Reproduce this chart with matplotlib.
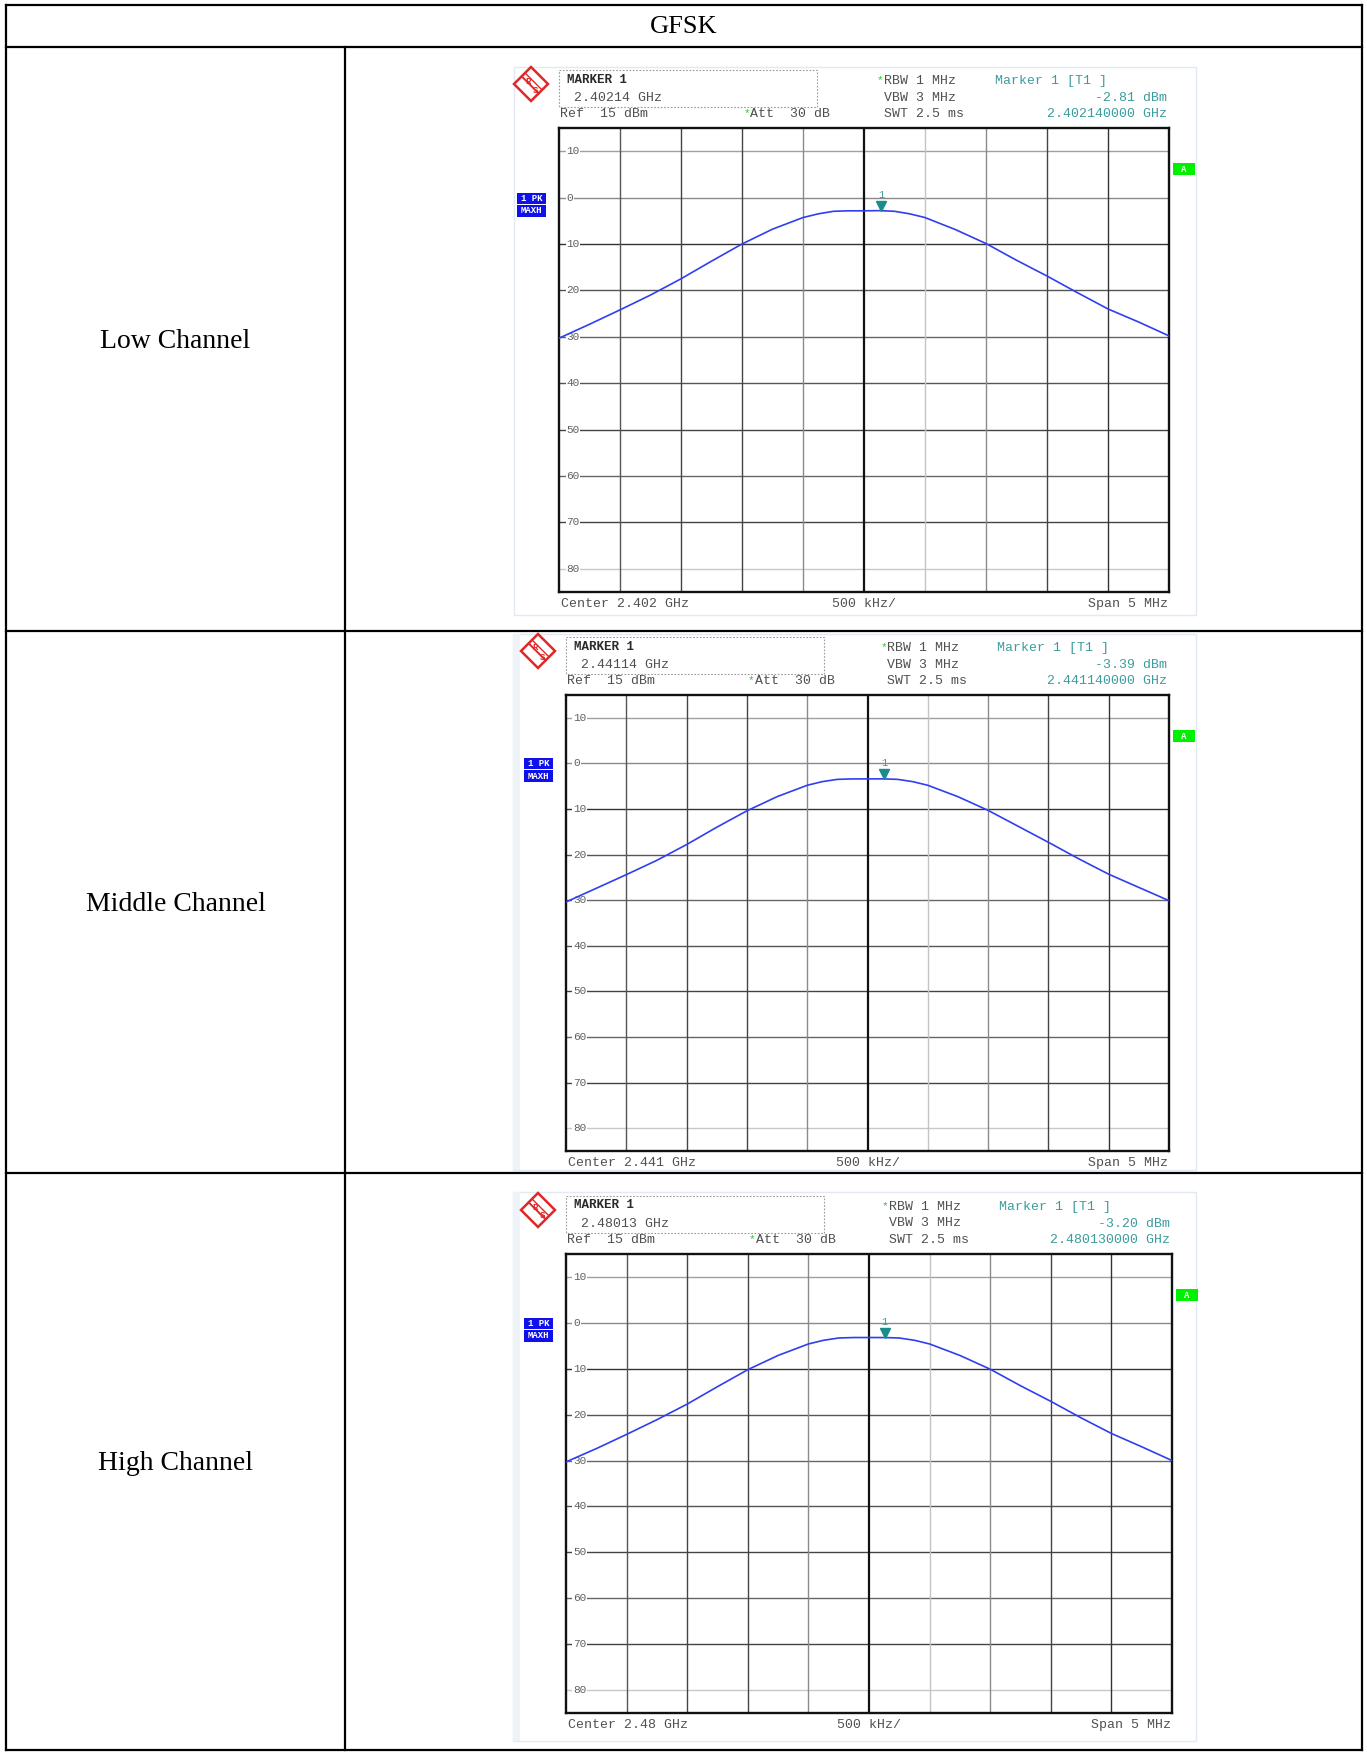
import numpy as np
import matplotlib.pyplot as plt
from matplotlib.patches import Rectangle, Polygon

# ---- data ----
title = 'GFSK'
channel_names = ['Low Channel', 'Middle Channel', 'High Channel']
center_ghz = [2.402, 2.441, 2.48]
marker_ghz = [2.40214, 2.44114, 2.48013]
marker_dbm = [-2.81, -3.39, -3.20]

# frequency offset from centre (MHz) at which the trace was read
offset_mhz = [-2.5, -2.25, -2.0, -1.75, -1.5, -1.25, -1.0, -0.75, -0.5, -0.375,
              -0.25, -0.125, 0.0, 0.125, 0.25, 0.375, 0.5, 0.75, 1.0, 1.25,
              1.5, 1.75, 2.0, 2.25, 2.5]
low_dbm = [-30.3, -27.3, -24.2, -21.0, -17.5, -13.7, -10.0, -6.8, -4.3, -3.5,
           -2.95, -2.85, -2.85, -2.81, -2.95, -3.5, -4.3, -6.9, -9.9, -13.5,
           -16.9, -20.5, -24.0, -26.8, -29.8]
mid_dbm = [-30.4, -27.4, -24.4, -21.3, -17.8, -14.0, -10.4, -7.3, -4.8, -4.0,
           -3.5, -3.4, -3.4, -3.39, -3.5, -4.0, -4.8, -7.3, -10.3, -13.8,
           -17.3, -20.9, -24.3, -27.2, -30.1]
high_dbm = [-30.3, -27.4, -24.3, -21.1, -17.7, -13.9, -10.2, -7.1, -4.6, -3.8,
            -3.3, -3.2, -3.2, -3.2, -3.3, -3.8, -4.6, -7.1, -10.1, -13.7,
            -17.1, -20.7, -24.1, -27.0, -30.0]
traces = [low_dbm, mid_dbm, high_dbm]

ref_level = 15
grid_levels = [10, 0, -10, -20, -30, -40, -50, -60, -70, -80]

# ---- layout (pixels of the 1367x1753 page) ----
W, H = 1367, 1753
table_x = (6, 1362)
table_rows = [5, 47, 631, 1173, 1750]
col_x = 345
shots = [(514, 67, 1196, 615), (513, 634, 1196, 1170), (513, 1192, 1196, 1741)]
frames = [(559, 128, 1169, 592), (566, 695, 1169, 1151), (566, 1254, 1172, 1713)]

serif = 'Liberation Serif'
mono = 'Liberation Mono'
txt_gray = '#505050'
teal = '#3c9c9c'
trace_blue = '#2f3ff0'

hgrid_col = {10: '#a0a0a0', 0: '#8a8a8a', -10: '#333333', -20: '#555555',
             -30: '#666666', -40: '#555555', -50: '#444444', -60: '#666666',
             -70: '#444444', -80: '#c8c8c8'}
vgrid_col = {-2.0: '#555555', -1.5: '#444444', -1.0: '#444444', -0.5: '#8a8a8a',
             0.5: '#c4c4c4', 1.0: '#8a8a8a', 1.5: '#444444', 2.0: '#333333'}

fig = plt.figure(figsize=(W / 100, H / 100), dpi=100)
fig.patch.set_facecolor('white')
bg = fig.add_axes([0, 0, 1, 1])
bg.set_xlim(0, W)
bg.set_ylim(H, 0)
bg.axis('off')

# table grid
for y in table_rows:
    bg.plot(table_x, [y, y], color='black', lw=1.6, solid_capstyle='projecting')
for x in table_x:
    bg.plot([x, x], [table_rows[0], table_rows[-1]], color='black', lw=1.6)
bg.plot([col_x, col_x], [table_rows[1], table_rows[-1]], color='black', lw=1.6)

bg.text((table_x[0] + table_x[1]) / 2, (table_rows[0] + table_rows[1]) / 2 + 1, title,
        family=serif, fontsize=19, ha='center', va='center')
for i, name in enumerate(channel_names):
    yc = (table_rows[i + 1] + table_rows[i + 2]) / 2 + 2
    bg.text((table_x[0] + col_x) / 2, yc, name, family=serif, fontsize=20,
            ha='center', va='center')


def draw_logo(cx, cy, r=17):
    diamond = Polygon([(cx, cy - r), (cx + r, cy), (cx, cy + r), (cx - r, cy)],
                      closed=True, facecolor='white', edgecolor='#e02828', lw=1.8)
    bg.add_patch(diamond)
    bg.plot([cx - r * 0.55, cx + r * 0.45], [cy - r * 0.45, cy + r * 0.55],
            color='#e02828', lw=1.4)
    bg.plot([cx - r * 0.35, cx + r * 0.6], [cy - r * 0.65, cy + r * 0.3],
            color='#e02828', lw=1.0)
    bg.text(cx - 3, cy - 3, 'R', color='#e02828', fontsize=6.5, family=mono,
            ha='center', va='center', fontweight='bold')
    bg.text(cx + 4, cy + 6, 'S', color='#e02828', fontsize=6.5, family=mono,
            ha='center', va='center', fontweight='bold')


for i in range(3):
    sx0, sy0, sx1, sy1 = shots[i]
    fx0, fy0, fx1, fy1 = frames[i]
    fw = fx1 - fx0

    # screenshot border
    bg.add_patch(Rectangle((sx0, sy0), sx1 - sx0, sy1 - sy0, facecolor='white',
                           edgecolor='#e2e9f3', lw=1.0, zorder=0.5))
    if i > 0:
        bg.add_patch(Rectangle((sx0, sy0), 7, sy1 - sy0, facecolor='#eef2f9',
                               edgecolor='none', zorder=0.6))

    draw_logo(fx0 - 28, fy0 - 44)

    # marker box
    bg.add_patch(Rectangle((fx0, fy0 - 58), 258, 37, facecolor='none',
                           edgecolor='#9a9a9a', lw=0.8, ls=(0, (1.5, 1.5))))
    bg.text(fx0 + 8, fy0 - 48.5, 'MARKER 1', family=mono, fontsize=9,
            fontweight='bold', color='#2a2a2a', va='center')
    bg.text(fx0 + 15, fy0 - 30, f'{marker_ghz[i]:.5f} GHz', family=mono,
            fontsize=9.5, color=txt_gray, va='center')
    bg.text(fx0 + 1, fy0 - 14, f'Ref  {ref_level} dBm', family=mono,
            fontsize=9.5, color=txt_gray, va='center')
    bg.text(fx0 + 0.302 * fw, fy0 - 15, '*', family=mono, fontsize=8,
            color='#22cc22', va='center')
    bg.text(fx0 + 0.313 * fw, fy0 - 14, 'Att  30 dB', family=mono,
            fontsize=9.5, color=txt_gray, va='center')
    bg.text(fx0 + 0.521 * fw, fy0 - 48, '*', family=mono, fontsize=8,
            color='#22cc22', va='center')
    for k, s in enumerate(['RBW 1 MHz', 'VBW 3 MHz', 'SWT 2.5 ms']):
        bg.text(fx0 + 0.533 * fw, fy0 - 47 + 16.5 * k, s, family=mono,
                fontsize=9.5, color=txt_gray, va='center')
    bg.text(fx0 + 0.715 * fw, fy0 - 47, 'Marker 1 [T1 ]', family=mono,
            fontsize=9.5, color=teal, va='center')
    bg.text(fx1 - 2, fy0 - 30, f'{marker_dbm[i]:.2f} dBm', family=mono,
            fontsize=9.5, color=teal, va='center', ha='right')
    bg.text(fx1 - 2, fy0 - 14, f'{marker_ghz[i]:.9f} GHz', family=mono,
            fontsize=9.5, color=teal, va='center', ha='right')

    # bottom annotations
    bg.text(fx0 + 2, fy1 + 12, f'Center {center_ghz[i]:g} GHz', family=mono,
            fontsize=9.5, color=txt_gray, va='center')
    bg.text((fx0 + fx1) / 2, fy1 + 12, '500 kHz/', family=mono,
            fontsize=9.5, color=txt_gray, va='center', ha='center')
    bg.text(fx1 - 1, fy1 + 12, 'Span 5 MHz', family=mono,
            fontsize=9.5, color=txt_gray, va='center', ha='right')

    # plot frame
    ax = fig.add_axes([fx0 / W, 1 - fy1 / H, fw / W, (fy1 - fy0) / H])
    ax.set_xlim(-2.5, 2.5)
    ax.set_ylim(-85, ref_level)
    ax.set_xticks([])
    ax.set_yticks([])
    for sp in ax.spines.values():
        sp.set_linewidth(1.7)
        sp.set_color('#111111')

    # trace labels and status box
    y0 = H - ax.transData.transform((0, 0))[1]  # pixel row of the 0 dB line
    bg.add_patch(Rectangle((fx0 - 42, y0 - 5), 29, 11, facecolor='#1010e8',
                           edgecolor='none'))
    bg.text(fx0 - 27.5, y0 + 0.5, '1 PK', family=mono, fontsize=6.5, color='white',
            fontweight='bold', ha='center', va='center')
    bg.add_patch(Rectangle((fx0 - 42, y0 + 7), 29, 12, facecolor='#1010e8',
                           edgecolor='none'))
    bg.text(fx0 - 27.5, y0 + 13, 'MAXH', family=mono, fontsize=6.5, color='white',
            fontweight='bold', ha='center', va='center')
    bg.add_patch(Rectangle((fx1 + 4, fy0 + 35), 22, 12, facecolor='#00f000',
                           edgecolor='none'))
    bg.text(fx1 + 15, fy0 + 41, 'A', family=mono, fontsize=6.5, color='white',
            fontweight='bold', ha='center', va='center')

    # grid
    for lv in grid_levels:
        ax.axhline(lv, color=hgrid_col[lv], lw=1.0, zorder=1)
        ax.text(0.012, lv, str(lv) if lv >= 0 else str(-lv),
                transform=ax.get_yaxis_transform(), family=mono, fontsize=8,
                color='#606060', ha='left', va='center', zorder=2,
                bbox=dict(facecolor='white', edgecolor='none', pad=0.6))
    for xv in np.arange(-2.0, 2.01, 0.5):
        xv = round(float(xv), 1)
        if xv == 0.0:
            ax.axvline(0, color='#111111', lw=1.6, zorder=1.5)
        else:
            ax.axvline(xv, color=vgrid_col[xv], lw=1.0, zorder=1)

    ax.plot(offset_mhz, traces[i], color=trace_blue, lw=1.2, zorder=3)

    mx = (marker_ghz[i] - center_ghz[i]) * 1000
    ax.plot(mx, marker_dbm[i] + 1.0, marker='v', color='#1a8c8c', ms=6.5,
            zorder=4, clip_on=False)
    ax.text(mx, marker_dbm[i] + 3.4, '1', family=mono, fontsize=7.5, color=teal,
            ha='center', va='center', zorder=4)

fig.savefig('out.png', dpi=100)
